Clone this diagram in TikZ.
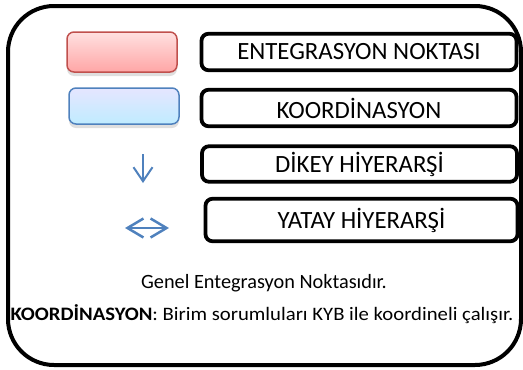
\documentclass[tikz,border=0pt]{standalone}
\usepackage{fontspec}
\setmainfont{Carlito}
\usetikzlibrary{arrows.meta,shadows}

\definecolor{kirmizicizgi}{HTML}{C0504D}
\definecolor{maviciz}{HTML}{4F81BD}
\newcommand{\genis}[1]{\scalebox{1.09}[1]{#1}}

\tikzset{
  legbox/.style={draw, line width=3.8pt, rounded corners=7pt, minimum width=315pt,
    minimum height=36.5pt, inner sep=0pt, font=\fontsize{24.8}{28}\selectfont},
  renkbox/.style={line width=1.5pt, rounded corners=7pt, minimum width=110pt, inner sep=0pt,
    drop shadow={shadow xshift=0pt, shadow yshift=-4pt, opacity=0.25}},
  okcizgi/.style={maviciz, line width=2pt}
}

\begin{document}
\begin{tikzpicture}[x=1pt,y=-1pt]
      \useasboundingbox (0,0) rectangle (523,370);
      \draw [line width=4pt, rounded corners=46pt] (8,6) rectangle (521,365);

      % renkli kutular
      \node [renkbox, draw=kirmizicizgi, top color=red!12, bottom color=red!35!white,
             minimum height=40pt] (kirmizi) at (122,52) {};
      \node [renkbox, draw=maviciz, top color=blue!10!white, bottom color=blue!30!cyan!25!white,
             minimum height=36pt] (mavi) at (124,106) {};

      % oklar
      \coordinate (dikeyust) at (143,154);
      \coordinate (dikeyalt) at (143,183);
      \draw [okcizgi, -{Straight Barb[length=14pt,width=19pt]}] (dikeyust) -- (dikeyalt);
      \coordinate (yataysol) at (125,228);
      \coordinate (yataysag) at (169,228);
      \draw [okcizgi, line width=2.5pt, {Straight Barb[length=16pt,width=19pt]}-{Straight Barb[length=16pt,width=19pt]}]
            (yataysol) -- (yataysag);

      % etiketler
      \node [legbox] (entegrasyon) at (359,52) {ENTEGRASYON NOKTASI};
      \node [legbox] (koordinasyon) at (359,108) {KOORDİNASYON};
      \node [legbox, minimum height=35.5pt] (dikey) at (359.5,164) {DİKEY HİYERARŞİ};
      \node [legbox, minimum width=312pt, minimum height=42.5pt] (yatay) at (361.5,220) {YATAY HİYERARŞİ};

      \node [font=\fontsize{20.3}{24}\selectfont] (genel) at (264,283) {Genel Entegrasyon Noktasıdır.};
      \node [font=\fontsize{19}{23}\selectfont] (aciklama) at (262,314)
            {\genis{\textbf{KOORDİNASYON}: Birim sorumluları KYB ile koordineli çalışır.}};
\end{tikzpicture}
\end{document}
